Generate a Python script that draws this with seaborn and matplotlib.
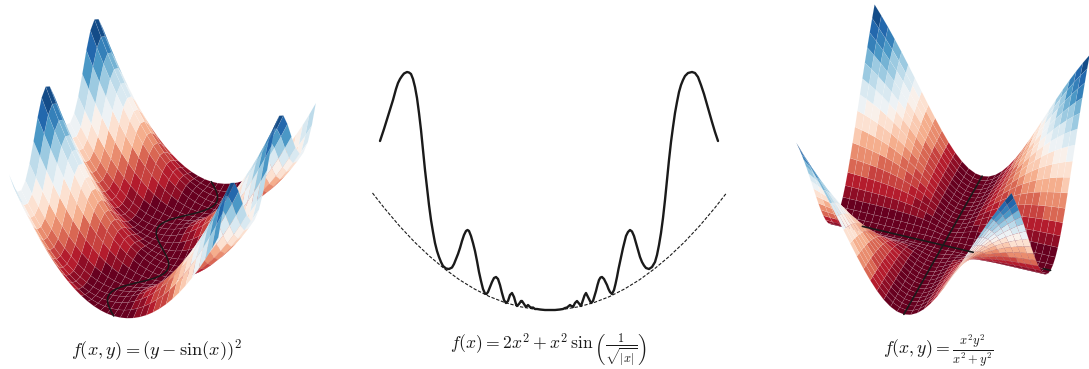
import numpy as np
import matplotlib
matplotlib.use("Agg")
import matplotlib.pyplot as plt
import seaborn as sns

sns.set_theme(style="white")
plt.rcParams["mathtext.fontset"] = "cm"

# --- left surface: rows for y >= 0, columns are the seven levels of the valley offset
left_x = [-6.283, -5.76, -5.236, -4.712, -4.189, -3.665, -3.142, -2.618, -2.094, -1.571, -1.047, -0.524, 0.0,
          0.524, 1.047, 1.571, 2.094, 2.618, 3.142, 3.665, 4.189, 4.712, 5.236, 5.76, 6.283]
left_y_half = [0, .393, .785, 1.178, 1.571, 1.963, 2.356, 2.749, 3.142, 3.534, 3.927, 4.32, 4.712, 5.105, 5.498,
               5.89, 6.283]
left_levels = [
    [0.00, 0.25, 0.75, 1.00, 0.25, 0.75, 1.00],
    [0.15, 0.01, 0.22, 0.37, 0.80, 1.59, 1.94],
    [0.62, 0.08, 0.01, 0.05, 1.65, 2.73, 3.19],
    [1.39, 0.46, 0.10, 0.03, 2.82, 4.18, 4.74],
    [2.47, 1.15, 0.50, 0.33, 4.29, 5.94, 6.61],
    [3.85, 2.14, 1.20, 0.93, 6.07, 8.00, 8.78],
    [5.55, 3.44, 2.22, 1.84, 8.16, 10.38, 11.26],
    [7.56, 5.06, 3.55, 3.06, 10.56, 13.07, 14.06],
    [9.87, 6.98, 5.18, 4.59, 13.26, 16.06, 17.16],
    [12.49, 9.21, 7.12, 6.42, 16.27, 19.36, 20.56],
    [15.42, 11.74, 9.37, 8.57, 19.60, 22.97, 24.28],
    [18.66, 14.59, 11.93, 11.02, 23.23, 26.89, 28.30],
    [22.20, 17.74, 14.79, 13.78, 27.16, 31.11, 32.63],
    [26.06, 21.21, 17.97, 16.85, 31.42, 35.65, 37.27],
    [30.23, 24.98, 21.46, 20.23, 35.98, 40.50, 42.22],
    [34.69, 29.05, 25.24, 23.91, 40.83, 45.64, 47.47],
    [39.48, 33.44, 29.34, 27.91, 46.01, 51.11, 53.04],
]
order_pos = [0, 1, 2, 3, 2, 1, 0, 4, 5, 6, 5, 4]
order_neg = [0, 4, 5, 6, 5, 4, 0, 1, 2, 3, 2, 1]
valley_period = [0, .259, .5, .707, .866, .966, 1, .966, .866, .707, .5, .259,
                 0, -.259, -.5, -.707, -.866, -.966, -1, -.966, -.866, -.707, -.5, -.259]

# --- right surface: one quadrant of the values
right_grid = list(range(-16, 17))
right_quadrant = [
    [0] * 17,
    [0, .5, .8, .9, .94, .96, .97, .98, .98, .99, .99, .99, .99, .99, .99, 1, 1],
    [0, .8, 2, 2.77, 3.2, 3.45, 3.6, 3.7, 3.76, 3.81, 3.85, 3.87, 3.89, 3.91, 3.92, 3.93, 3.94],
    [0, .9, 2.77, 4.5, 5.76, 6.62, 7.2, 7.6, 7.89, 8.1, 8.26, 8.38, 8.47, 8.54, 8.6, 8.65, 8.69],
    [0, .94, 3.2, 5.76, 8, 9.76, 11.08, 12.06, 12.8, 13.36, 13.79, 14.13, 14.4, 14.62, 14.79, 14.94, 15.06],
    [0, .96, 3.45, 6.62, 9.76, 12.5, 14.75, 16.55, 17.98, 19.1, 20, 20.72, 21.3, 21.78, 22.17, 22.5, 22.78],
    [0, .97, 3.6, 7.2, 11.08, 14.75, 18, 20.75, 23.04, 24.92, 26.47, 27.75, 28.8, 29.68, 30.41, 31.03, 31.56],
    [0, .98, 3.7, 7.6, 12.06, 16.55, 20.75, 24.5, 27.75, 30.53, 32.89, 34.88, 36.56, 37.99, 39.2, 40.24, 41.13],
    [0, .98, 3.76, 7.89, 12.8, 17.98, 23.04, 27.75, 32, 35.75, 39.02, 41.86, 44.31, 46.42, 48.25, 49.83, 51.2],
    [0, .99, 3.81, 8.1, 13.36, 19.1, 24.92, 30.53, 35.75, 40.5, 44.75, 48.52, 51.84, 54.76, 57.31, 59.56, 61.53],
    [0, .99, 3.85, 8.26, 13.79, 20, 26.47, 32.89, 39.02, 44.75, 50, 54.75, 59.02, 62.83, 66.22, 69.23, 71.91],
    [0, .99, 3.87, 8.38, 14.13, 20.72, 27.75, 34.88, 41.86, 48.52, 54.75, 60.5, 65.75, 70.51, 74.81, 78.68, 82.17],
    [0, .99, 3.89, 8.47, 14.4, 21.3, 28.8, 36.56, 44.31, 51.84, 59.02, 65.75, 72, 77.75, 83.01, 87.8, 92.16],
    [0, .99, 3.91, 8.54, 14.62, 21.78, 29.68, 37.99, 46.42, 54.76, 62.83, 70.51, 77.75, 84.5, 90.75, 96.51, 101.8],
    [0, .99, 3.92, 8.6, 14.79, 22.17, 30.41, 39.2, 48.25, 57.31, 66.22, 74.81, 83.01, 90.75, 98, 104.75, 111.01],
    [0, 1, 3.93, 8.65, 14.94, 22.5, 31.03, 40.24, 49.83, 59.56, 69.23, 78.68, 87.8, 96.51, 104.75, 112.5, 119.75],
    [0, 1, 3.94, 8.69, 15.06, 22.78, 31.56, 41.13, 51.2, 61.53, 71.91, 82.17, 92.16, 101.8, 111.01, 119.75, 128],
]

# --- middle curve
curve_x = [-169.5, -165.5, -161.5, -158.5, -156.5, -153.5, -151.5, -149.5, -147.5, -145.5, -142.5, -140.5, -138.5,
           -136.5, -134.5, -132.5, -130.5, -128.5, -126.5, -124.5, -122.5, -120.5, -118.5, -116.5, -114.5, -112.5,
           -110.5, -108.5, -106.5, -103.5, -100.5, -97.5, -95.5, -93.5, -91.5, -89.5, -87.5, -85.5, -83.5, -82,
           -80.5, -78.5, -76.5, -74.5, -72.5, -70.5, -68.5, -66.5, -64.5, -63, -61.5, -59.5, -57.5, -55.5, -53.5,
           -51.5, -49.5, -47.5, -45.5, -43.5, -41.5, -39.5, -37.5, -35.5, -33.5, -32.5, -30.5, -28.5, -27.5, -25.5,
           -23.5, -22.5, -21.5, -19.5, -17.5, -16.5, -14.5, -12.5, -9.5, -4.5, 0,
           5.5, 10.5, 13.5, 15.5, 17.5, 20.5, 22.5, 23.5, 25.5, 27.5, 29.5, 31.5, 33.5, 35, 36.5, 38.5, 41.5, 43.5,
           45, 46.5, 48, 49.5, 51, 52.5, 54.5, 56, 57.5, 59, 60.5, 62.5, 64.5, 66, 67.5, 69, 70.5, 72, 73.5, 75,
           76.5, 78.5, 80.5, 82.5, 84.5, 86.5, 88.5, 90.5, 92.5, 94.5, 96.5, 99.5, 102.5, 105.5, 107.5, 109.5, 111.5,
           113.5, 115.5, 117.5, 119.5, 121.5, 123.5, 125.5, 127.5, 129.5, 131.5, 133.5, 135.5, 138.5, 142.5, 145.5,
           148.5, 151.5, 154.5, 158.5, 162.5, 165.5, 168.5]
curve_y = [169, 181, 194, 204, 210, 221, 227, 231, 234, 236.5, 238, 237.5, 236,
           231, 223, 212, 197, 180, 160, 140, 122, 105, 90, 78, 67, 59,
           53, 48, 44, 41.5, 41, 42.5, 46, 51, 56, 62, 69, 75, 79, 80,
           79, 74, 67, 59, 49, 38, 29, 21, 16.5, 16, 18, 23, 28, 32, 33,
           31, 25, 17, 10, 7, 9, 15, 17, 13, 6, 4, 6, 9, 9, 6,
           3, 4, 5, 3, 2, 2.5, 1, 1, .5, 0, 0,
           0, .5, 1, 2, 2.5, 5, 3.5, 3, 7, 9, 6.5, 4, 10, 14.5, 17, 13, 7, 9,
           14, 19, 25, 30, 32.5, 33, 31, 28, 25, 21, 18, 16, 20, 26, 33, 41, 48, 55, 62, 68,
           74, 78, 80, 78.5, 74, 67, 60, 53, 48, 44.5, 42, 41, 43, 48, 55, 65, 77,
           92, 110, 130, 150, 168, 183, 197, 208, 218, 225, 230, 234, 237, 238, 237,
           233, 225, 216, 202, 188, 178, 169]
bound_x = [-177, -165, -150, -135, -120, -105, -90, -75, -60, -45, -30, -15, 0,
           15, 30, 45, 60, 75, 90, 105, 120, 135, 150, 165, 177]
bound_y = [117, 101.7, 84, 68, 53.8, 41.2, 30.2, 21, 13.4, 7.6, 3.4, .84, 0,
           .84, 3.4, 7.6, 13.4, 21, 30.2, 41.2, 53.8, 68, 84, 101.7, 117]

titles = [r"$f(x,y) = (y - \sin(x))^2$",
          r"$f(x) = 2x^2 + x^2\,\sin\left(\frac{1}{\sqrt{|x|}}\right)$",
          r"$f(x,y) = \frac{x^2y^2}{x^2+y^2}$"]
title_sizes = [13.2, 12.7, 12.8]

W, H = 1089, 369
fig = plt.figure(figsize=(W / 100, H / 100), dpi=100)
cmap = sns.color_palette("RdBu", as_cmap=True).resampled(20)


def surface_axes(cx, cy, side, azim):
    ax = fig.add_axes([(cx - .5135 * side) / W, (H - cy - .5135 * side) / H, side / W, side / H],
                      projection="3d", proj_type="ortho")
    ax.view_init(elev=40, azim=azim)
    ax.set_box_aspect((1, 1, .835))
    ax.computed_zorder = False
    ax.set_axis_off()
    ax.patch.set_alpha(0)
    return ax


# left surface
def expand(values, order):
    r = [values[i] for i in order]
    return r + r + [r[0]]


left_rows = [expand(v, order_neg) for v in reversed(left_levels)] + [expand(v, order_pos) for v in left_levels[1:]]
Z1 = np.array(left_rows)
left_y = [-v for v in reversed(left_y_half)] + left_y_half[1:]
X1, Y1 = np.meshgrid(left_x, left_y)
ax1 = surface_axes(162.5, 175, 368, -155)
ax1.plot_surface(X1, Y1, Z1, rstride=1, cstride=1, cmap=cmap, vmin=Z1.min(), vmax=Z1.max(), shade=False,
                 linewidth=.3, edgecolor=(1, 1, 1, .18), antialiased=True, zorder=1)
valley_x = np.linspace(left_x[0], left_x[-1], 49)
valley_y = valley_period * 2 + valley_period[:1]
ax1.plot(valley_x, valley_y, np.zeros(49), color="k", lw=1.1, zorder=5)
ax1.set_xlim(left_x[0], left_x[-1])
ax1.set_ylim(left_y[0], left_y[-1])
ax1.set_zlim(Z1.min(), Z1.max())

# right surface
Q = np.array(right_quadrant)
Z3 = np.block([[Q[::-1, ::-1], Q[::-1, 1:]], [Q[1:, ::-1], Q[1:, 1:]]])
X3, Y3 = np.meshgrid(right_grid, right_grid)
ax3 = surface_axes(943, 172, 365, -70)
ax3.plot_surface(X3, Y3, Z3, rstride=1, cstride=1, cmap=cmap, vmin=Z3.min(), vmax=Z3.max(), shade=False,
                 linewidth=.3, edgecolor=(1, 1, 1, .18), antialiased=True, zorder=1)
ax3.plot([0, 0], [-16, 16], [0, 0], color="k", lw=1.2, zorder=5)
ax3.plot([-12, 4.5], [0, 0], [0, 0], color="k", lw=1.2, zorder=5)
ax3.plot([14.9, 16], [0, 0], [0, 0], color="k", lw=1.2, zorder=5)
ax3.set_xlim(-16, 16)
ax3.set_ylim(-16, 16)
ax3.set_zlim(0, Z3.max())

# middle curve
ax2 = fig.add_axes([0, 0, 1, 1])
ax2.patch.set_alpha(0)
sns.lineplot(x=bound_x, y=bound_y, ax=ax2, sort=False, estimator=None, color="k", lw=.8, linestyle=(0, (3, 1.5)))
sns.lineplot(x=curve_x, y=curve_y, ax=ax2, sort=False, estimator=None, color="k", lw=1.7)
ax2.set_xlim(-549.5, 539.5)
ax2.set_ylim(-59, 310)
ax2.set_axis_off()

for (px, py), t, fs in zip([(157, 350), (548, 350.5), (938, 351)], titles, title_sizes):
    fig.text(px / W, 1 - py / H, t, ha="center", va="center", fontsize=fs, color="#1a1a1a")

fig.savefig("out.png", dpi=100)
